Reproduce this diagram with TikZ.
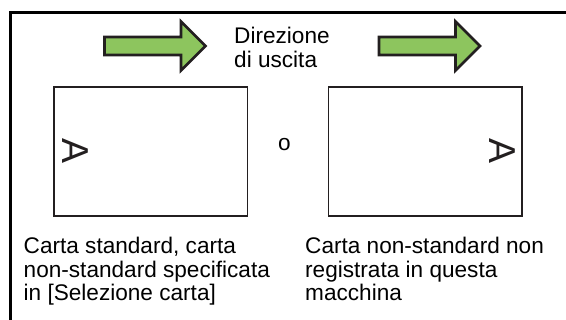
\documentclass[tikz,border=0pt]{standalone}
\usepackage{fontspec}
\setsansfont{Liberation Sans}
\usetikzlibrary{positioning}
\definecolor{outgreen}{RGB}{141,197,94}
\definecolor{inkdark}{RGB}{35,31,32}

\begin{document}
\begin{tikzpicture}[
  x=1pt, y=-1pt,
  font=\sffamily\fontsize{22.6}{23.5}\selectfont,
  frame/.style={draw=black, line width=3pt},
  outarrow/.style={draw=inkdark, fill=outgreen, line width=2.6pt, miter limit=10},
  paper/.style={draw=inkdark, line width=1.4pt, minimum width=193.5pt,
                minimum height=129pt, inner sep=0pt},
  letter/.style={font=\sffamily\fontsize{37.5}{37.5}\selectfont, rotate=-90,
                 inner sep=0pt, text=inkdark},
  caption/.style={align=left, anchor=north west, inner sep=0pt},
]
\clip (0,0) rectangle (566,320);

% frame, open to the right and bottom
\draw[frame] (10,330) -- (10,12.5) -- (580,12.5);

% output direction arrows
\foreach \dx in {0,274.5}
  \draw[outarrow, xshift=\dx pt] (104.5,37) -- (181,37) -- (181,21.5)
    -- (205.5,46) -- (181,70.5) -- (181,55) -- (104.5,55) -- cycle;

% sheets of paper
\node[paper] (stdpaper)    at (150.75,151.5) {};
\node[paper] (nonstdpaper) at (425.25,151.5) {};
\node[letter] (stdA)    at ([xshift=22pt]stdpaper.west)     {A};
\node[letter] (nonstdA) at ([xshift=-20.5pt]nonstdpaper.east) {A};
\node (or) at (284.3,144.3) {o};

% texts
\node[caption] (dir) at (234,27) {Direzione\\di uscita};
\node[caption] (stdtext) at (23.5,237) {Carta standard, carta\\non-standard specificata\\in [Selezione carta]};
\node[caption] (nonstdtext) at (305,237) {Carta non-standard non\\registrata in questa\\macchina};

\end{tikzpicture}
\end{document}
